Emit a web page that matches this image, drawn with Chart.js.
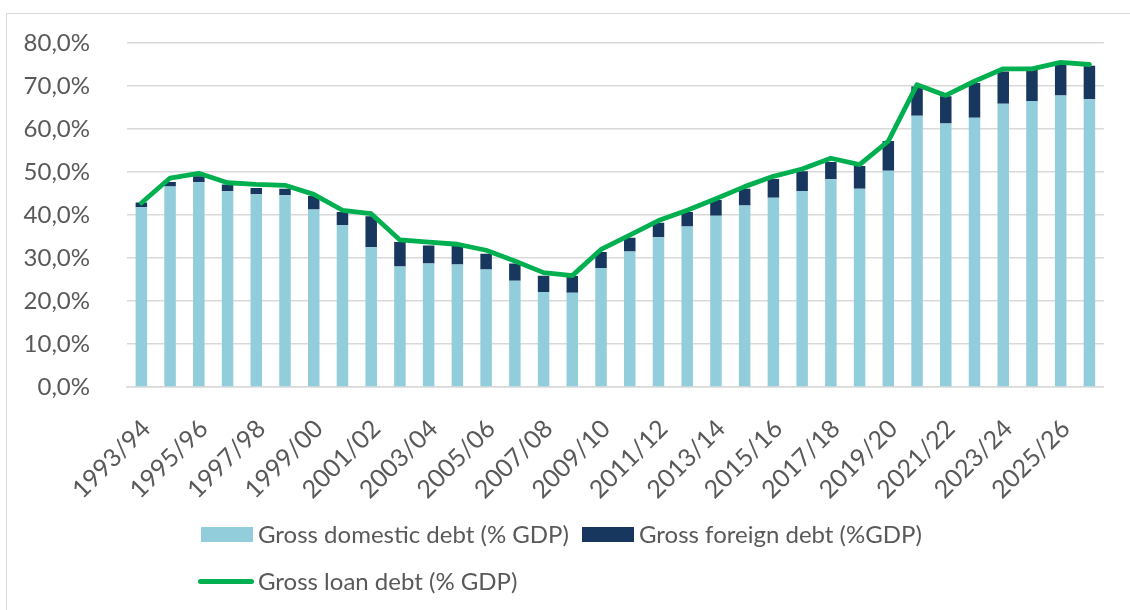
<!DOCTYPE html>
<html>
<head>
<meta charset="utf-8">
<script src="https://cdn.jsdelivr.net/npm/chart.js@4/dist/chart.umd.min.js"></script>
<style>
  html, body { margin: 0; padding: 0; background: #fff; overflow: hidden; }
  body { width: 1130px; height: 610px; position: relative; font-family: Lato, "Open Sans", sans-serif; color: #595959; }
  #frame { position: absolute; left: 6px; top: 13px; width: 1300px; height: 800px; border: 1.5px solid #d9d9d9; box-sizing: border-box; }
  #chart { position: absolute; left: 0; top: 0; }
  .lg { position: absolute; font-size: 24px; line-height: 28px; white-space: nowrap; }
  .sw { position: absolute; }
</style>
</head>
<body>
<div id="frame"></div>
<canvas id="chart" width="1130" height="610"></canvas>
<div id="legend"></div>
<script>
// Fiscal years
const categories = [
  '1993/94','1994/95','1995/96','1996/97','1997/98','1998/99','1999/00','2000/01',
  '2001/02','2002/03','2003/04','2004/05','2005/06','2006/07','2007/08','2008/09',
  '2009/10','2010/11','2011/12','2012/13','2013/14','2014/15','2015/16','2016/17',
  '2017/18','2018/19','2019/20','2020/21','2021/22','2022/23','2023/24','2024/25',
  '2025/26','2026/27'
];

// Gross domestic debt, % of GDP
const domesticDebt = [
  41.8, 46.6, 47.6, 45.5, 44.8, 44.6, 41.3, 37.6,
  32.5, 28.0, 28.7, 28.5, 27.3, 24.7, 22.1, 21.9,
  27.7, 31.5, 34.8, 37.3, 39.8, 42.2, 44.0, 45.6,
  48.3, 46.1, 50.3, 63.1, 61.3, 62.6, 65.9, 66.5,
  67.8, 66.9
];

// Gross foreign debt, % of GDP
const foreignDebt = [
  1.1, 1.1, 1.4, 1.6, 1.5, 1.5, 3.1, 3.1,
  7.2, 5.7, 4.2, 4.4, 3.7, 4.0, 3.8, 3.9,
  3.7, 3.2, 3.4, 3.4, 3.7, 3.9, 4.4, 4.6,
  4.0, 5.3, 6.9, 6.8, 6.3, 8.1, 7.5, 7.2,
  7.2, 7.8
];

// Gross loan debt, % of GDP
const loanDebt = [
  42.8, 48.6, 49.7, 47.5, 47.1, 46.9, 44.8, 41.1,
  40.3, 34.2, 33.7, 33.2, 31.8, 29.3, 26.6, 25.9,
  32.0, 35.3, 38.7, 41.1, 43.8, 46.6, 49.0, 50.7,
  53.2, 51.7, 57.2, 70.3, 67.8, 71.1, 74.0, 74.0,
  75.5, 75.0
];

// Y axis ticks (percent)
const yTicks = [0, 10, 20, 30, 40, 50, 60, 70, 80];

const seriesNames = ['Gross domestic debt (% GDP)', 'Gross foreign debt (%GDP)', 'Gross loan debt (% GDP)'];
const colors = { domestic: '#92cddc', foreign: '#17375e', loan: '#00b050' };

const textColor = '#595959';
const gridColor = '#d9d9d9';
const font = { family: 'Lato, "Open Sans", sans-serif', size: 24 };
const xFont = { family: 'Lato, "Open Sans", sans-serif', size: 25 };

const fmtPct = v => v.toFixed(1).replace('.', ',') + '%';

new Chart(document.getElementById('chart'), {
  data: {
    labels: categories,
    datasets: [
      {
        type: 'line', label: seriesNames[2], data: loanDebt, stack: 'loan', order: 0,
        borderColor: colors.loan, backgroundColor: colors.loan, borderWidth: 4.8,
        pointRadius: 0, tension: 0, borderJoinStyle: 'round', borderCapStyle: 'round'
      },
      {
        type: 'bar', label: seriesNames[0], data: domesticDebt, stack: 'debt', order: 1,
        backgroundColor: colors.domestic, barPercentage: 0.4, categoryPercentage: 1
      },
      {
        type: 'bar', label: seriesNames[1], data: foreignDebt, stack: 'debt', order: 1,
        backgroundColor: colors.foreign, barPercentage: 0.4, categoryPercentage: 1
      }
    ]
  },
  options: {
    responsive: false,
    animation: false,
    layout: { padding: { top: 43, right: 25, bottom: 93, left: 0 } },
    plugins: { legend: { display: false }, tooltip: { enabled: false } },
    scales: {
      x: {
        stacked: true,
        grid: { display: false },
        border: { display: true, color: gridColor, width: 1.5 },
        ticks: {
          autoSkip: false, minRotation: 45, maxRotation: 45, padding: 19, labelOffset: 5,
          color: textColor, font: xFont,
          callback: (v, i) => (i % 2 === 0 ? categories[i] : '')
        },
        afterFit: s => { s.height = 130; }
      },
      y: {
        stacked: true,
        min: yTicks[0], max: yTicks[yTicks.length - 1],
        afterBuildTicks: s => { s.ticks = yTicks.map(v => ({ value: v })); },
        grid: { color: gridColor, lineWidth: 1.5, drawTicks: false },
        border: { display: false },
        ticks: { padding: 37, color: textColor, font: font, callback: v => fmtPct(v) },
        afterFit: s => { s.width = 127; s.paddingTop = 0; }
      }
    }
  }
});

// Legend below the plot
const legend = document.getElementById('legend');
const items = [
  { sw: { left: 201, top: 527, width: 52, height: 15, background: colors.domestic }, text: seriesNames[0], x: 258, y: 520 },
  { sw: { left: 582, top: 527, width: 52, height: 15, background: colors.foreign }, text: seriesNames[1], x: 639, y: 520 },
  { sw: { left: 198, top: 579, width: 56, height: 5, background: colors.loan, borderRadius: '3px' }, text: seriesNames[2], x: 258, y: 567 }
];
items.forEach(it => {
  const s = document.createElement('div');
  s.className = 'sw';
  Object.entries(it.sw).forEach(([k, v]) => { s.style[k] = typeof v === 'number' ? v + 'px' : v; });
  legend.appendChild(s);
  const t = document.createElement('div');
  t.className = 'lg';
  t.style.left = it.x + 'px';
  t.style.top = it.y + 'px';
  t.textContent = it.text;
  legend.appendChild(t);
});
</script>
</body>
</html>
